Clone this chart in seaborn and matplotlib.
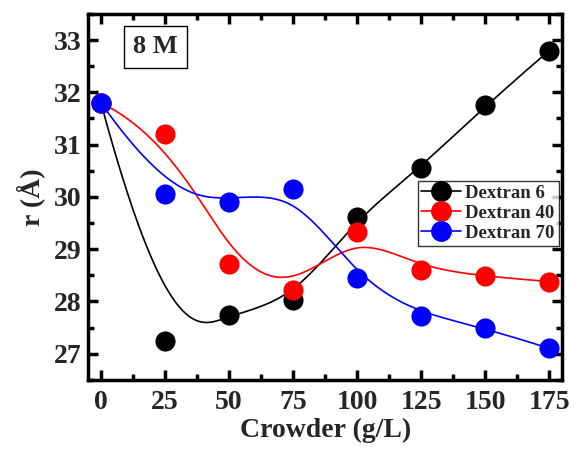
import numpy as np
import pandas as pd
import matplotlib
matplotlib.use("Agg")
import matplotlib.pyplot as plt
import seaborn as sns
from matplotlib.lines import Line2D
from matplotlib.ticker import MultipleLocator

crowder = [0, 25, 50, 75, 100, 125, 150, 175]
dextran6 = [31.8, 27.25, 27.75, 28.02, 29.62, 30.55, 31.75, 32.8]
dextran40 = [31.8, 31.2, 28.72, 28.22, 29.33, 28.6, 28.48, 28.38]
dextran70 = [31.8, 30.06, 29.9, 30.15, 28.45, 27.72, 27.5, 27.1]
series_names = ["Dextran 6", "Dextran 40", "Dextran 70"]
colors = ["black", "red", "blue"]

sns.set_theme(style="white")
plt.rcParams['font.family'] = ['Liberation Serif', 'DejaVu Serif']
plt.rcParams['font.weight'] = 'bold'


def bspline(cx, cy, k=3, n=400):
    cx = np.asarray(cx, float)
    cy = np.asarray(cy, float)
    m = len(cx)
    t = np.concatenate([np.zeros(k), np.linspace(0, 1, m - k + 1), np.ones(k)])
    u = np.linspace(0, 1, n)
    u[-1] -= 1e-10
    B = np.zeros((n, len(t) - 1))
    for i in range(len(t) - 1):
        B[:, i] = ((u >= t[i]) & (u < t[i + 1])).astype(float)
    for d in range(1, k + 1):
        Bn = np.zeros((n, len(t) - 1 - d))
        for i in range(len(t) - 1 - d):
            a = 0.0
            den1 = t[i + d] - t[i]
            if den1 > 0:
                a = (u - t[i]) / den1 * B[:, i]
            b = 0.0
            den2 = t[i + d + 1] - t[i + 1]
            if den2 > 0:
                b = (t[i + d + 1] - u) / den2 * B[:, i + 1]
            Bn[:, i] = a + b
        B = Bn
    return B @ cx, B @ cy


fig, ax = plt.subplots(figsize=(5.76, 4.49), dpi=100)
fig.subplots_adjust(left=0.153, right=0.976, top=0.969, bottom=0.154)

handles = []
for name, vals, c in zip(series_names, [dextran6, dextran40, dextran70], colors):
    sx, sy = bspline(crowder, vals)
    sns.lineplot(x=sx, y=sy, ax=ax, color=c, lw=1.2, sort=False, estimator=None)
    sns.scatterplot(x=crowder, y=vals, ax=ax, color=c, s=210, edgecolor=c, linewidth=0, zorder=3)
    handles.append(Line2D([0], [0], color=c, lw=1.2, marker='o', markersize=14,
                          markerfacecolor=c, markeredgecolor=c, label=name))

ax.set_xlim(-5, 180)
ax.set_ylim(26.5, 33.5)
ax.xaxis.set_major_locator(MultipleLocator(25))
ax.xaxis.set_minor_locator(MultipleLocator(12.5))
ax.yaxis.set_major_locator(MultipleLocator(1))
ax.yaxis.set_minor_locator(MultipleLocator(0.5))
ax.tick_params(which='both', direction='in', top=True, right=True, bottom=True, left=True,
               width=2.5, color='black')
ax.tick_params(which='major', length=7, labelsize=20)
ax.tick_params(which='minor', length=4)
ax.tick_params(axis='x', which='major', pad=7)
ax.tick_params(axis='y', which='major', pad=5)
for lab in ax.get_xticklabels() + ax.get_yticklabels():
    lab.set_fontweight('bold')
for sp in ax.spines.values():
    sp.set_linewidth(2.5)
    sp.set_color('black')

ax.set_xlabel("Crowder (g/L)", fontsize=20, fontweight='bold', labelpad=2)
ax.set_ylabel("r (Å)", fontsize=20, fontweight='bold', labelpad=6)

ax.text(0.095, 0.91, "8 M", transform=ax.transAxes, fontsize=19, fontweight='bold',
        va='center', ha='left',
        bbox=dict(boxstyle='square,pad=0.35', facecolor='white', edgecolor='black', lw=1))

leg = ax.legend(handles=handles, loc='upper left', bbox_to_anchor=(0.695, 0.543),
                frameon=True, fancybox=False, edgecolor='black',
                handlelength=2.1, handletextpad=0.25, borderpad=0.2, labelspacing=0.15,
                borderaxespad=0,
                prop={'weight': 'bold', 'size': 13.5, 'family': 'Liberation Serif'})
leg.get_frame().set_linewidth(1)

fig.savefig("out.png", dpi=100)
